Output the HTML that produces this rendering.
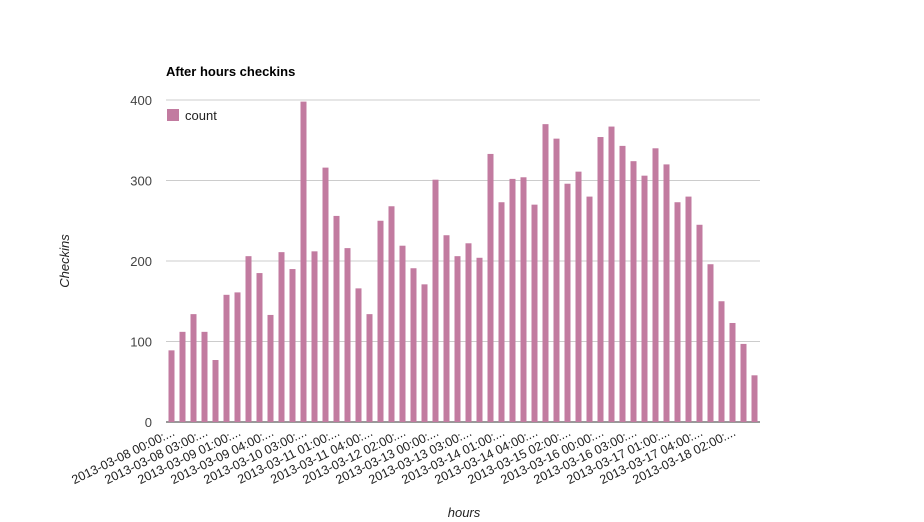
<!DOCTYPE html>
<html><head><meta charset="utf-8"><style>
body{margin:0;background:#fff;}
svg{display:block;font-family:"Liberation Sans",Arial,sans-serif;}
</style></head><body>
<svg id="chart" width="924" height="522">
<text x="166" y="76" font-size="13" font-weight="bold" fill="#000">After hours checkins</text>
<g id="grid"></g>
<g id="bars"></g>
<g id="xlabels"></g>
<rect x="167" y="109" width="12" height="12" fill="#c27ba0"/>
<text x="185" y="120" font-size="13" fill="#222">count</text>
<text transform="translate(69,261) rotate(-90)" text-anchor="middle" font-size="13" font-style="italic" fill="#222">Checkins</text>
<text x="464" y="517" text-anchor="middle" font-size="13" font-style="italic" fill="#222">hours</text>
</svg>
<script>
const values=[89,112,134,112,77,158,161,206,185,133,211,190,398,212,316,256,216,166,134,250,268,219,191,171,301,232,206,222,204,333,273,302,304,270,370,352,296,311,280,354,367,343,324,306,340,320,273,280,245,196,150,123,97,58];
const tickLabels=["2013-03-08 00:00:...","2013-03-08 03:00:...","2013-03-09 01:00:...","2013-03-09 04:00:...","2013-03-10 03:00:...","2013-03-11 01:00:...","2013-03-11 04:00:...","2013-03-12 02:00:...","2013-03-13 00:00:...","2013-03-13 03:00:...","2013-03-14 01:00:...","2013-03-14 04:00:...","2013-03-15 02:00:...","2013-03-16 00:00:...","2013-03-16 03:00:...","2013-03-17 01:00:...","2013-03-17 04:00:...","2013-03-18 02:00:..."];
const yTicks=[0,100,200,300,400];
const NS="http://www.w3.org/2000/svg";
const X0=166,X1=760,Y0=422,Y1=100,YMAX=400;
const step=(X1-X0)/values.length;
const xc=i=>X0+step*(i+0.5);
const y=v=>Y0-(v/YMAX)*(Y0-Y1);
const grid=document.getElementById('grid');
yTicks.forEach(t=>{
  const l=document.createElementNS(NS,'line');
  l.setAttribute('x1',X0);l.setAttribute('x2',X1);l.setAttribute('y1',y(t));l.setAttribute('y2',y(t));
  l.setAttribute('stroke',t===0?'#333':'#ccc');l.setAttribute('stroke-width','1');
  
  
  grid.appendChild(l);
  const tx=document.createElementNS(NS,'text');
  tx.setAttribute('x',152);tx.setAttribute('y',y(t)+5);tx.setAttribute('text-anchor','end');
  tx.setAttribute('font-size','13');tx.setAttribute('fill','#444');tx.textContent=t;
  
  
  grid.appendChild(tx);
});
const bars=document.getElementById('bars');
values.forEach((v,i)=>{
  const r=document.createElementNS(NS,'rect');
  r.setAttribute('x',xc(i)-3);r.setAttribute('width',6);
  r.setAttribute('y',y(v));r.setAttribute('height',Y0-y(v));
  r.setAttribute('fill','#c27ba0');
  
  
  bars.appendChild(r);
});
const xl=document.getElementById('xlabels');
tickLabels.forEach((s,k)=>{
  const i=k*3;
  const tx=document.createElementNS(NS,'text');
  tx.setAttribute('transform','translate('+(xc(i)+4)+',435) rotate(-26)');
  tx.setAttribute('text-anchor','end');tx.setAttribute('font-size','12.5');tx.setAttribute('fill','#222');
  tx.textContent=s;
  
  
  xl.appendChild(tx);
});
</script>
</body></html>
